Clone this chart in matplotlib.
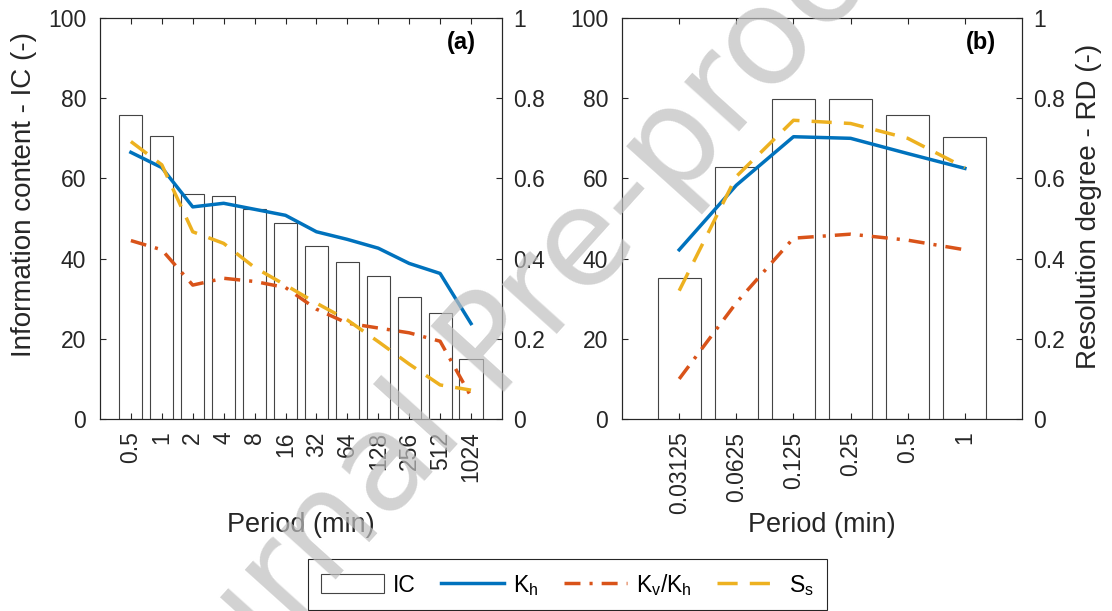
import numpy as np
import matplotlib
matplotlib.use('Agg')
import matplotlib.pyplot as plt
from matplotlib.patches import Patch
from matplotlib.lines import Line2D

plt.rcParams['font.family'] = ['Liberation Sans', 'DejaVu Sans']
plt.rcParams['mathtext.fontset'] = 'custom'
plt.rcParams['mathtext.rm'] = 'Liberation Sans'
plt.rcParams['mathtext.it'] = 'Liberation Sans'
plt.rcParams['mathtext.default'] = 'regular'

# panel (a)
periods_a = ['0.5', '1', '2', '4', '8', '16', '32', '64', '128', '256', '512', '1024']
ic_a = [75.8, 70.5, 56.1, 55.6, 52.3, 48.9, 43.1, 39.2, 35.7, 30.4, 26.4, 15.0]
kh_a = [0.665, 0.627, 0.529, 0.538, 0.523, 0.508, 0.467, 0.448, 0.426, 0.388, 0.363, 0.238]
kvkh_a = [0.445, 0.422, 0.334, 0.351, 0.343, 0.328, 0.274, 0.239, 0.227, 0.215, 0.194, 0.056]
ss_a = [0.692, 0.634, 0.467, 0.438, 0.378, 0.334, 0.289, 0.247, 0.193, 0.137, 0.085, 0.072]

# panel (b)
periods_b = ['0.03125', '0.0625', '0.125', '0.25', '0.5', '1']
ic_b = [35.2, 62.8, 79.7, 79.7, 75.7, 70.3]
kh_b = [0.422, 0.583, 0.704, 0.700, 0.662, 0.625]
kvkh_b = [0.100, 0.290, 0.451, 0.461, 0.446, 0.422]
ss_b = [0.320, 0.605, 0.745, 0.737, 0.700, 0.627]

C_KH = '#0072BD'
C_KV = '#D95319'
C_SS = '#EDB120'
AXC = '#262626'
BARC = '#444444'
LS_KV = (0, (4.6, 2.6, 0.9, 2.6))
LS_SS = (0, (5.8, 3.5))
LW = 2.5

fig = plt.figure(figsize=(11.12, 6.11), dpi=100)


def panel(rect, labels, ic, kh, kvkh, ss, tag):
    ax = fig.add_axes(rect)
    x = np.arange(1, len(labels) + 1)
    ax.bar(x, ic, width=0.75, color='white', edgecolor=BARC, linewidth=0.8)
    ax.set_xlim(0, len(labels) + 1)
    ax.set_ylim(0, 100)
    ax.set_yticks(range(0, 101, 20))
    ax.set_xticks(x)
    ax.set_xticklabels(labels, rotation=90)
    ax.tick_params(axis='x', direction='in', top=True, length=4, pad=9,
                   labelsize=16.5, color=AXC, labelcolor=AXC)
    ax.tick_params(axis='y', direction='in', length=4, pad=10,
                   labelsize=16.5, color=AXC, labelcolor=AXC)
    for s in ax.spines.values():
        s.set_color(AXC)
        s.set_linewidth(0.8)
    ax.set_xlabel('Period (min)', fontsize=19.5, color=AXC, va='center')
    ax.xaxis.set_label_coords(0.5, -0.264)

    ax2 = ax.twinx()
    ax2.plot(x, kh, color=C_KH, lw=LW)
    ax2.plot(x, kvkh, color=C_KV, lw=LW, linestyle=LS_KV)
    ax2.plot(x, ss, color=C_SS, lw=LW, linestyle=LS_SS)
    ax2.set_ylim(0, 1)
    ax2.set_yticks([0, 0.2, 0.4, 0.6, 0.8, 1])
    ax2.set_yticklabels(['0', '0.2', '0.4', '0.6', '0.8', '1'])
    ax2.tick_params(axis='y', direction='in', length=4, pad=8,
                    labelsize=16.5, color=AXC, labelcolor=AXC)
    for s in ax2.spines.values():
        s.set_color(AXC)
        s.set_linewidth(0.8)
    ax2.text(0.935, 0.94, tag, transform=ax2.transAxes, ha='right', va='center',
             fontsize=17, fontweight='bold', color='black')
    return ax, ax2


axa, axa2 = panel([0.0899, 0.3142, 0.3615, 0.6563], periods_a, ic_a, kh_a, kvkh_a, ss_a, '(a)')
axb, axb2 = panel([0.5594, 0.3142, 0.3597, 0.6563], periods_b, ic_b, kh_b, kvkh_b, ss_b, '(b)')

axa.set_ylabel('Information content - IC (-)', fontsize=20, color=AXC, va='center')
axa.yaxis.set_label_coords(-0.19, 0.56)
axb2.set_ylabel('Resolution degree - RD (-)', fontsize=20, color=AXC, va='center')
axb2.yaxis.set_label_coords(1.1675, 0.53)

handles = [Patch(facecolor='white', edgecolor=BARC, linewidth=0.8),
           Line2D([], [], color=C_KH, lw=LW),
           Line2D([], [], color=C_KV, lw=LW, linestyle=LS_KV),
           Line2D([], [], color=C_SS, lw=LW, linestyle=LS_SS)]
names = ['IC', 'K$_h$', 'K$_v$/K$_h$', 'S$_s$']
leg = fig.legend(handles, names, loc='upper center', bbox_to_anchor=(567.5 / 1112, 1 - 559 / 611),
                 ncol=4, fontsize=16.5, frameon=True, fancybox=False, framealpha=1,
                 edgecolor=AXC, handlelength=2.75, handleheight=0.9, handletextpad=0.4,
                 columnspacing=1.1, borderpad=0.55, borderaxespad=0)
leg.get_frame().set_linewidth(0.8)

# watermark
fig.text(506 / 1112, 1 - 343 / 611, 'Journal Pre-proof', rotation=48, fontsize=98,
         family='DejaVu Sans', color='#bfbfbf', alpha=0.7, ha='center', va='center',
         rotation_mode='anchor', zorder=100)

fig.savefig('out.png', dpi=100)
